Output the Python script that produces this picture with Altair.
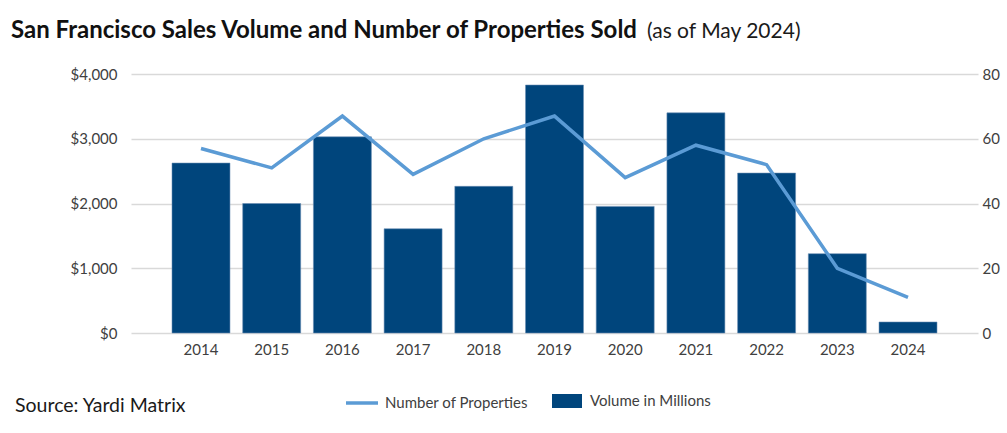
import altair as alt
import pandas as pd

# Annual San Francisco sales figures
years = ["2014", "2015", "2016", "2017", "2018", "2019", "2020", "2021", "2022", "2023", "2024"]
volume_millions = [2625, 2000, 3030, 1610, 2265, 3830, 1955, 3400, 2470, 1225, 170]
properties_sold = [57, 51, 67, 49, 60, 67, 48, 58, 52, 20, 11]

title_main = "San Francisco Sales Volume and Number of Properties Sold"
title_note = "(as of May 2024)"
source_note = "Source: Yardi Matrix"

FONT = "Lato"
BAR_BLUE = "#00457c"
LINE_BLUE = "#5b9bd5"
LABEL_GREY = "#404040"
GRID_GREY = "#d9d9d9"

df = pd.DataFrame({
    "year": years,
    "volume": volume_millions,
    "count": properties_sold,
    "bar_series": ["Volume in Millions"] * len(years),
    "line_series": ["Number of Properties"] * len(years),
})

x_enc = alt.X(
    "year:N",
    sort=years,
    scale=alt.Scale(paddingInner=0.18, paddingOuter=0.58),
    axis=alt.Axis(
        title=None, labelAngle=0, domain=False, ticks=False,
        labelPadding=9, labelFontSize=15, labelColor=LABEL_GREY, labelFont=FONT,
    ),
)

bars = alt.Chart(df).mark_bar(
    stroke="#6a8db3", strokeWidth=0.8, strokeOpacity=0.7
).encode(
    x=x_enc,
    y=alt.Y(
        "volume:Q",
        scale=alt.Scale(domain=[0, 4000], nice=False),
        axis=alt.Axis(
            orient="left", title=None, values=[0, 1000, 2000, 3000, 4000],
            format="$,.0f", domain=False, ticks=False, labelPadding=14,
            labelFontSize=15, labelColor=LABEL_GREY, labelFont=FONT,
            grid=True, gridColor=GRID_GREY, gridWidth=1.5,
        ),
    ),
    color=alt.Color(
        "bar_series:N",
        scale=alt.Scale(domain=["Volume in Millions"], range=[BAR_BLUE]),
        legend=alt.Legend(
            orient="none", legendX=421, legendY=312, title=None, padding=0,
            symbolType="M-1,-0.467H1V0.467H-1Z", symbolSize=900,
            symbolStrokeWidth=0, symbolOpacity=1, labelOffset=8,
            labelFontSize=15, labelColor=LABEL_GREY, labelFont=FONT,
        ),
    ),
)

line = alt.Chart(df).mark_line(strokeWidth=3.5).encode(
    x=x_enc,
    y=alt.Y(
        "count:Q",
        scale=alt.Scale(domain=[0, 80], nice=False),
        axis=alt.Axis(
            orient="right", title=None, values=[0, 20, 40, 60, 80],
            domain=False, ticks=False, grid=False, labelPadding=4,
            labelFontSize=15, labelColor=LABEL_GREY, labelFont=FONT,
        ),
    ),
    stroke=alt.Stroke(
        "line_series:N",
        scale=alt.Scale(domain=["Number of Properties"], range=[LINE_BLUE]),
        legend=alt.Legend(
            orient="none", legendX=213, legendY=311, title=None, padding=0,
            symbolType="stroke", symbolSize=1024, symbolStrokeWidth=3.5,
            labelOffset=5, labelFontSize=15, labelColor=LABEL_GREY, labelFont=FONT,
        ),
    ),
)

# Heading: bold main line followed by a lighter date note
head_df = pd.DataFrame({"t": [title_main]})
head = alt.Chart(head_df).mark_text(
    align="left", baseline="alphabetic", font=FONT, fontSize=24,
    fontWeight="bold", color="#111111",
).encode(x=alt.value(-120), y=alt.value(-36), text="t:N")

note_df = pd.DataFrame({"t": [title_note]})
note = alt.Chart(note_df).mark_text(
    align="left", baseline="alphabetic", font=FONT, fontSize=21,
    fontWeight="normal", color="#1a1a1a",
).encode(x=alt.value(516), y=alt.value(-36), text="t:N")

source_df = pd.DataFrame({"t": [source_note]})
source = alt.Chart(source_df).mark_text(
    align="left", baseline="alphabetic", font=FONT, fontSize=19.5, color="#1a1a1a",
).encode(x=alt.value(-116), y=alt.value(338), text="t:N")

chart = alt.layer(bars, line, head, note, source).resolve_scale(
    y="independent", color="independent"
).properties(
    width=847,
    height=259,
    padding={"left": 131, "top": 74, "right": 29, "bottom": 100},
    autosize=alt.AutoSizeParams(type="none"),
    background="white",
).configure_view(stroke=None)

chart.save("out.html", embed_options={"renderer": "svg", "actions": False})
